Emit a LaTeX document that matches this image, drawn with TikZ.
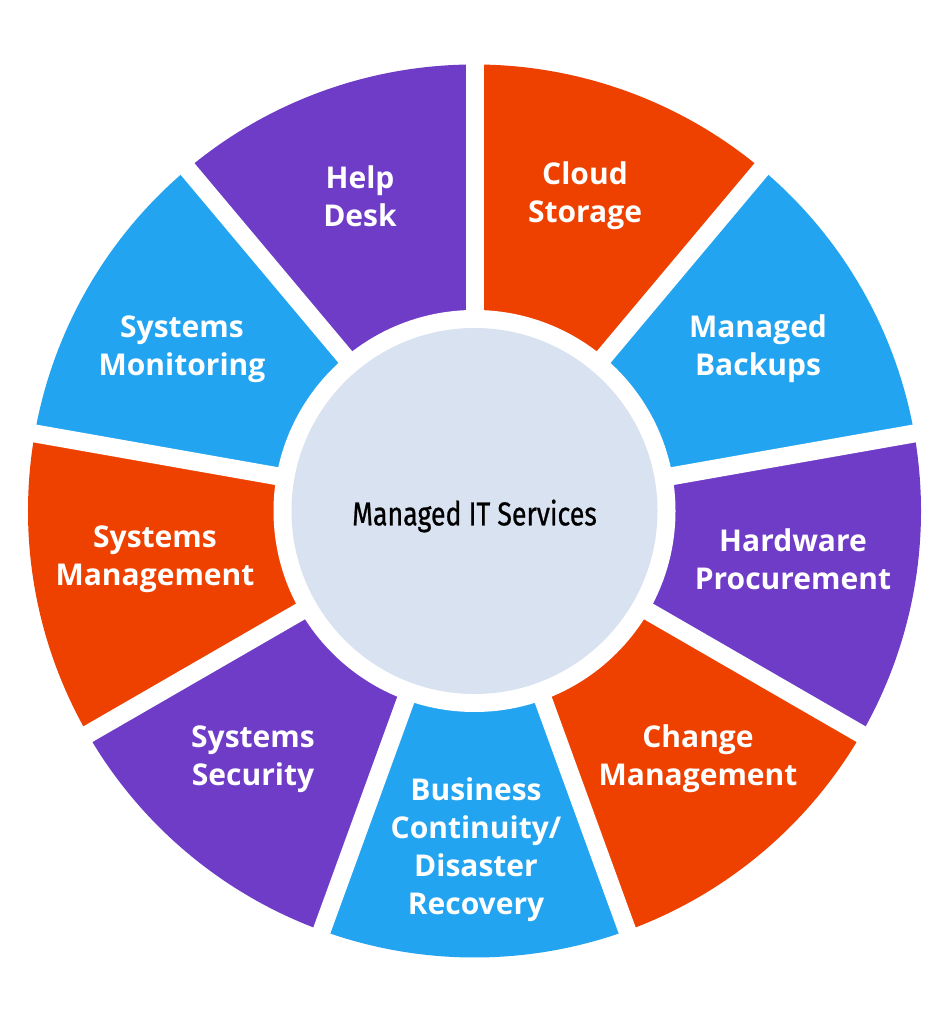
\documentclass[tikz,border=0pt]{standalone}
\usepackage{fontspec}
\setmainfont{Open Sans}
\newfontfamily\centerfont{Fira Sans}[FakeBold=0.8]
\usepackage{graphicx}
\definecolor{corange}{HTML}{EE4100}
\definecolor{cblue}{HTML}{23A4F0}
\definecolor{cpurple}{HTML}{6F3CC8}
\definecolor{cinner}{HTML}{D9E2F0}
\begin{document}
\begin{tikzpicture}[x=1pt,y=1pt,
  seglabel/.style={text=white, font=\fontsize{30}{38}\selectfont\bfseries, align=center, inner sep=0pt},
  gapline/.style={white, line width=18pt}]
\useasboundingbox (0,0) rectangle (949,1024);
\fill[white] (0,0) rectangle (949,1024);
\coordinate (c) at (474.5,513);
\foreach \a/\col in {90/corange, 50/cblue, 10/cpurple, -30/corange, -70/cblue, -110/cpurple, -150/corange, -190/cblue, -230/cpurple} {
  \fill[\col] (c) -- ++(\a:446.5) arc[start angle=\a, end angle=\a-40, radius=446.5] -- cycle;
}
\foreach \a in {90,50,10,-30,-70,-110,-150,-190,-230} {
  \draw[gapline] (c) -- ++(\a:470);
}
\fill[white] (c) circle (201);
\node[circle, fill=cinner, minimum size=366pt, inner sep=0pt] (hub) at (c) {};
\node[font=\centerfont\fontsize{33}{38}\selectfont, text=black, inner sep=0pt] (hubtext) at (474.5,508) {\scalebox{0.81}[1]{Managed IT Services}};
\node[seglabel] (help) at (360,828) {Help\\Desk};
\node[seglabel] (cloud) at (585,828) {Cloud\\Storage};
\node[seglabel] (monitor) at (182,675) {Systems\\Monitoring};
\node[seglabel] (backup) at (758,675) {Managed\\Backups};
\node[seglabel] (sysman) at (155,465) {Systems\\Management};
\node[seglabel] (hardware) at (793,465) {Hardware\\Procurement};
\node[seglabel] (security) at (253,265) {Systems\\Security};
\node[seglabel] (change) at (698,265) {Change\\Management};
\node[seglabel] (business) at (476,174) {Business\\Continuity/\\Disaster\\Recovery};
\end{tikzpicture}
\end{document}
